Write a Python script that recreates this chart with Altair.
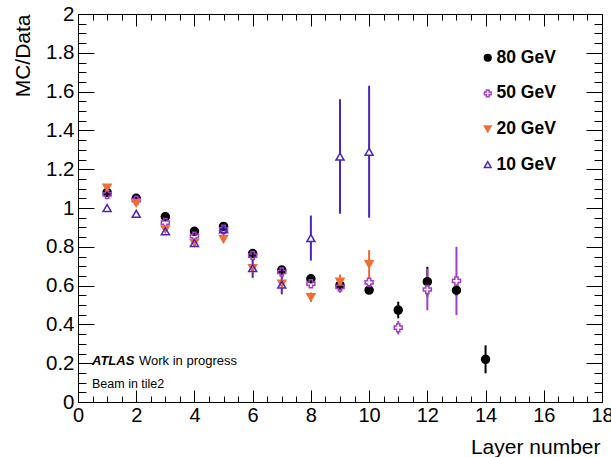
import altair as alt
import pandas as pd

# Beam energies, drawing style per beam
beams = ["80 GeV", "50 GeV", "20 GeV", "10 GeV"]
stroke_colours = ["#000000", "#a23ec6", "#f06e32", "#4b23be"]
fill_colours = ["#000000", "transparent", "#f06e32", "transparent"]
marker_shapes = ["circle", "cross", "triangle-down", "triangle-up"]

# MC/Data ratio per calorimeter layer
layers_80 = [1, 2, 3, 4, 5, 6, 7, 8, 9, 10, 11, 12, 13, 14]
ratio_80 = [1.08, 1.05, 0.955, 0.88, 0.905, 0.765, 0.68, 0.635, 0.603, 0.577, 0.474, 0.62, 0.576, 0.22]
err_80 = [0.01, 0.01, 0.01, 0.01, 0.012, 0.012, 0.015, 0.015, 0.02, 0.02, 0.043, 0.077, 0.03, 0.072]

layers_50 = [1, 2, 3, 4, 5, 6, 7, 8, 9, 10, 11, 12, 13]
ratio_50 = [1.07, 1.04, 0.925, 0.855, 0.89, 0.755, 0.67, 0.61, 0.593, 0.617, 0.383, 0.58, 0.624]
err_50 = [0.01, 0.01, 0.012, 0.012, 0.015, 0.015, 0.02, 0.02, 0.03, 0.03, 0.035, 0.107, 0.176]

layers_20 = [1, 2, 3, 4, 5, 6, 7, 8, 9, 10]
ratio_20 = [1.105, 1.025, 0.89, 0.82, 0.84, 0.69, 0.61, 0.54, 0.62, 0.71]
err_20 = [0.01, 0.01, 0.012, 0.012, 0.015, 0.02, 0.02, 0.025, 0.037, 0.073]

layers_10 = [1, 2, 3, 4, 5, 6, 7, 8, 9, 10]
ratio_10 = [1.0, 0.97, 0.88, 0.82, 0.89, 0.69, 0.605, 0.845, 1.265, 1.29]
err_10 = [0.01, 0.012, 0.015, 0.02, 0.035, 0.05, 0.05, 0.116, 0.295, 0.34]

# Axis ticks
x_major = [0, 2, 4, 6, 8, 10, 12, 14, 16, 18]
x_minor = [k * 0.5 for k in range(37) if k % 4 != 0]
y_major = [0, 0.2, 0.4, 0.6, 0.8, 1.0, 1.2, 1.4, 1.6, 1.8, 2.0]
y_minor = [round(k * 0.05, 2) for k in range(41) if k % 4 != 0]

atlas_label = "ATLAS"
atlas_status = "Work in progress"
beam_note = "Beam in tile2"

FONT = "Liberation Sans"

rows = []
for beam, xs, ys, es in [
    ("80 GeV", layers_80, ratio_80, err_80),
    ("50 GeV", layers_50, ratio_50, err_50),
    ("20 GeV", layers_20, ratio_20, err_20),
    ("10 GeV", layers_10, ratio_10, err_10),
]:
    for x, y, e in zip(xs, ys, es):
        rows.append({"layer": x, "ratio": y, "lo": y - e, "hi": y + e, "beam": beam})
df = pd.DataFrame(rows)

x_scale = alt.Scale(domain=[0, 18], nice=False, zero=False)
y_scale = alt.Scale(domain=[0, 2], nice=False, zero=False)
stroke_scale = alt.Scale(domain=beams, range=stroke_colours)
fill_scale = alt.Scale(domain=beams, range=fill_colours)
shape_scale = alt.Scale(domain=beams, range=marker_shapes)

base = alt.Chart(df)


def beam_only(beam):
    return base.transform_filter(alt.datum.beam == beam)


# vertical error bars, one layer per beam energy
errorbars = [
    beam_only(b).mark_rule(strokeWidth=2, stroke=c).encode(
        x=alt.X("layer:Q", scale=x_scale, axis=None),
        y=alt.Y("lo:Q", scale=y_scale, axis=None),
        y2="hi:Q",
    )
    for b, c in zip(beams, stroke_colours)
]

# white backing so error bars do not show inside hollow markers
backing = [
    beam_only(b).mark_point(filled=True, fill="white", strokeOpacity=0, size=64, shape=s, opacity=1).encode(
        x=alt.X("layer:Q", scale=x_scale, axis=None),
        y=alt.Y("ratio:Q", scale=y_scale, axis=None),
    )
    for b, s in zip(beams, marker_shapes)
    if b in ("50 GeV", "10 GeV")
]

legend = alt.Legend(
    title=None,
    orient="none",
    legendX=401,
    legendY=35,
    padding=0,
    labelFont=FONT,
    labelFontWeight="bold",
    labelFontSize=17.5,
    labelColor="black",
    labelOffset=0,
    symbolSize=45,
    symbolStrokeWidth=1.5,
    rowPadding=16.6,
)

points = base.mark_point(filled=True, size=64, strokeWidth=1.5, opacity=1).encode(
    x=alt.X(
        "layer:Q",
        scale=x_scale,
        axis=alt.Axis(
            orient="bottom",
            values=x_major,
            ticks=False,
            tickSize=0,
            domain=False,
            grid=False,
            labelFont=FONT,
            labelFontSize=20,
            labelColor="black",
            labelPadding=3,
            labelFlush=False,
            labelOverlap=False,
            title="Layer number",
            titleFont=FONT,
            titleFontSize=21,
            titleFontWeight="normal",
            titleColor="black",
            titleAlign="right",
            titleBaseline="alphabetic",
            titleX=522,
            titleY=51,
        ),
    ),
    y=alt.Y(
        "ratio:Q",
        scale=y_scale,
        axis=alt.Axis(
            orient="left",
            values=y_major,
            format=".1~f",
            ticks=False,
            tickSize=0,
            domain=False,
            grid=False,
            labelFont=FONT,
            labelFontSize=20.5,
            labelColor="black",
            labelPadding=4,
            labelFlush=False,
            labelOverlap=False,
            title="MC/Data",
            titleFont=FONT,
            titleFontSize=21,
            titleFontWeight="normal",
            titleColor="black",
            titleAngle=270,
            titleAlign="right",
            titleBaseline="middle",
            titleX=-55,
            titleY=0,
        ),
    ),
    stroke=alt.Stroke("beam:N", scale=stroke_scale, legend=legend),
    fill=alt.Fill("beam:N", scale=fill_scale, legend=legend),
    shape=alt.Shape("beam:N", scale=shape_scale, legend=legend),
)


def tick_layer(x_orient, y_orient, xvals, yvals, xsize, ysize):
    return base.mark_point(opacity=0).encode(
        x=alt.X(
            "layer:Q",
            scale=x_scale,
            axis=alt.Axis(
                orient=x_orient, values=xvals, labels=False, domain=False, grid=False,
                tickSize=xsize, offset=-xsize, tickColor="black", tickWidth=1, title=None,
            ),
        ),
        y=alt.Y(
            "ratio:Q",
            scale=y_scale,
            axis=alt.Axis(
                orient=y_orient, values=yvals, labels=False, domain=False, grid=False,
                tickSize=ysize, offset=-ysize, tickColor="black", tickWidth=1, title=None,
            ),
        ),
    )


ticks_bl_major = tick_layer("bottom", "left", x_major, y_major, 12, 16)
ticks_bl_minor = tick_layer("bottom", "left", x_minor, y_minor, 6, 8)
ticks_tr_major = tick_layer("top", "right", x_major, y_major, 12, 16)
ticks_tr_minor = tick_layer("top", "right", x_minor, y_minor, 6, 8)

labels_df = pd.DataFrame({"t": [atlas_label, atlas_status, beam_note]})
atlas_text = alt.Chart(labels_df).transform_filter(alt.datum.t == atlas_label).mark_text(
    align="left", baseline="alphabetic", font=FONT, fontSize=13,
    fontWeight="bold", fontStyle="italic", color="black",
).encode(text="t:N", x=alt.value(14), y=alt.value(351))
status_text = alt.Chart(labels_df).transform_filter(alt.datum.t == atlas_status).mark_text(
    align="left", baseline="alphabetic", font=FONT, fontSize=13, color="black",
).encode(text="t:N", x=alt.value(61), y=alt.value(351))
beam_text = alt.Chart(labels_df).transform_filter(alt.datum.t == beam_note).mark_text(
    align="left", baseline="alphabetic", font=FONT, fontSize=12.5, color="black",
).encode(text="t:N", x=alt.value(14), y=alt.value(374))

chart = (
    alt.layer(
        *errorbars, *backing, points,
        ticks_bl_major, ticks_bl_minor, ticks_tr_major, ticks_tr_minor,
        atlas_text, status_text, beam_text,
    )
    .resolve_axis(x="independent", y="independent")
    .properties(
        width=524,
        height=388,
        autosize=alt.AutoSizeParams(type="none"),
        padding={"left": 78, "top": 14, "right": 9, "bottom": 55},
        background="white",
    )
    .configure_view(stroke="black", strokeWidth=1)
)

chart.save("out.html", embed_options={"renderer": "svg", "actions": False})
